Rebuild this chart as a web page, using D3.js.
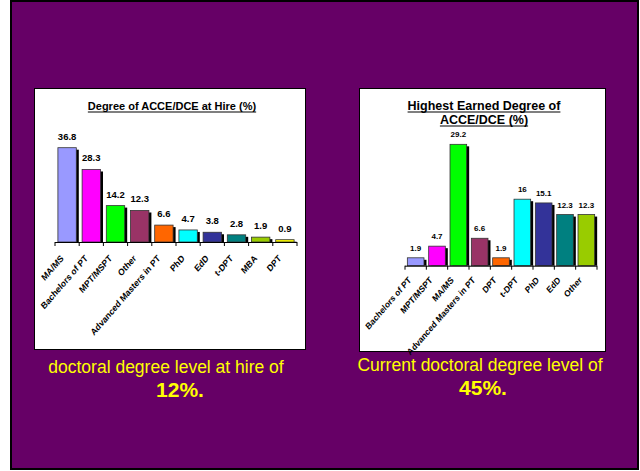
<!DOCTYPE html>
<html>
<head>
<meta charset="utf-8">
<script src="https://cdn.jsdelivr.net/npm/d3@7/dist/d3.min.js"></script>
<style>
  html, body { margin: 0; padding: 0; background: #ffffff; }
  svg { display: block; }
  text { font-family: "Liberation Sans", Arial, sans-serif; }
</style>
</head>
<body>
<svg id="slide" width="640" height="471"></svg>
<script>
// Degree held at hire (%)
const hireCategories = ["MA/MS", "Bachelors of PT", "MPT/MSPT", "Other", "Advanced Masters in PT",
                        "PhD", "EdD", "t-DPT", "MBA", "DPT"];
const hireValues = [36.8, 28.3, 14.2, 12.3, 6.6, 4.7, 3.8, 2.8, 1.9, 0.9];

// Highest degree currently held (%)
const currentCategories = ["Bachelors of PT", "MPT/MSPT", "MA/MS", "Advanced Masters in PT", "DPT",
                           "t-DPT", "PhD", "EdD", "Other"];
const currentValues = [1.9, 4.7, 29.2, 6.6, 1.9, 16, 15.1, 12.3, 12.3];

// Bar fills, in category order
const hireColors = ["#9999ff", "#ff00ff", "#00ff00", "#993366", "#ff6600",
                    "#00ffff", "#333399", "#008080", "#99cc00", "#ffff00"];
const currentColors = ["#9999ff", "#ff00ff", "#00ff00", "#993366", "#ff6600",
                       "#00ffff", "#333399", "#008080", "#99cc00"];

const svg = d3.select("#slide");

// Slide background
svg.append("rect")
  .attr("x", 11).attr("y", 1).attr("width", 627).attr("height", 468)
  .attr("fill", "#660066").attr("stroke", "#000").attr("stroke-width", 2);

function drawChart(opts) {
  const g = svg.append("g");
  // white panel
  g.append("rect")
    .attr("x", opts.box[0] + 0.5).attr("y", opts.box[1] + 0.5)
    .attr("width", opts.box[2] - opts.box[0]).attr("height", opts.box[3] - opts.box[1])
    .attr("fill", "#fff").attr("stroke", "#000").attr("stroke-width", 1);

  // title, underlined
  opts.title.forEach((line, i) => {
    const t = g.append("text")
      .attr("x", opts.titleX).attr("y", opts.titleY + i * opts.titleLead)
      .attr("text-anchor", "middle")
      .attr("font-weight", "bold")
      .attr("font-size", opts.titleSize)
      .attr("fill", "#000")
      .text(line);
    const w = t.node().getComputedTextLength();
    g.append("line")
      .attr("x1", opts.titleX - w / 2).attr("x2", opts.titleX + w / 2)
      .attr("y1", opts.titleY + i * opts.titleLead + 2)
      .attr("y2", opts.titleY + i * opts.titleLead + 2)
      .attr("stroke", "#000").attr("stroke-width", 1.2);
  });

  const x = d3.scaleBand()
    .domain(opts.categories)
    .range([opts.x0, opts.x1])
    .paddingInner(opts.padInner)
    .paddingOuter(opts.padInner / 2);
  const y = d3.scaleLinear().domain(opts.yDomain).range([opts.baseY, opts.topY]);

  const data = opts.categories.map((c, i) => ({ c, v: opts.values[i], col: opts.colors[i] }));

  // drop shadows
  g.selectAll("rect.shadow").data(data).enter().append("rect")
    .attr("class", "shadow")
    .attr("x", d => x(d.c) + 2.5)
    .attr("y", d => y(d.v) + 2)
    .attr("width", x.bandwidth())
    .attr("height", d => Math.max(0, y(0) - y(d.v) - 2))
    .attr("fill", "#000");

  // bars
  g.selectAll("rect.bar").data(data).enter().append("rect")
    .attr("class", "bar")
    .attr("x", d => x(d.c))
    .attr("y", d => y(d.v))
    .attr("width", x.bandwidth())
    .attr("height", d => y(0) - y(d.v))
    .attr("fill", d => d.col)
    .attr("stroke", "#333").attr("stroke-width", 0.8);

  // value labels
  g.selectAll("text.val").data(data).enter().append("text")
    .attr("class", "val")
    .attr("x", d => x(d.c) + x.bandwidth() / 2)
    .attr("y", d => y(d.v) - opts.labelGap)
    .attr("text-anchor", "middle")
    .attr("font-weight", "bold")
    .attr("font-size", opts.valSize)
    .attr("fill", "#000")
    .text(d => d.v);

  // category axis with ticks at band boundaries
  const bounds = d3.range(opts.categories.length + 1);
  const bx = d3.scaleLinear().domain([0, opts.categories.length]).range([opts.x0, opts.x1]);
  g.append("line")
    .attr("x1", opts.x0).attr("x2", opts.x1)
    .attr("y1", y(0) + 0.5).attr("y2", y(0) + 0.5)
    .attr("stroke", "#000").attr("stroke-width", 1);
  g.selectAll("line.tick").data(bounds).enter().append("line")
    .attr("class", "tick")
    .attr("x1", d => bx(d)).attr("x2", d => bx(d))
    .attr("y1", y(0)).attr("y2", y(0) + 4)
    .attr("stroke", "#000").attr("stroke-width", 1);

  // rotated category labels (slightly stretched vertically)
  g.selectAll("text.cat").data(data).enter().append("text")
    .attr("class", "cat")
    .attr("transform", d => `translate(${x(d.c) + x.bandwidth() / 2 + opts.catDx},${y(0) + opts.catDy}) scale(1,1.15) rotate(-45)`)
    .attr("text-anchor", "end")
    .attr("font-weight", "bold")
    .attr("font-size", opts.catSize)
    .attr("fill", "#000")
    .text(d => d.c);
}

drawChart({
  box: [34, 88, 305, 349],
  title: ["Degree of ACCE/DCE at Hire (%)"],
  titleX: 172, titleY: 110, titleLead: 0, titleSize: 11,
  categories: hireCategories, values: hireValues, colors: hireColors,
  x0: 55, x1: 297, padInner: 0.24,
  yDomain: [0, 40], baseY: 242, topY: 139.5,
  labelGap: 8, valSize: 9.5, catSize: 8.2, catDx: -3, catDy: 17
});

drawChart({
  box: [359, 88, 605, 351],
  title: ["Highest Earned Degree of", "ACCE/DCE  (%)"],
  titleX: 484, titleY: 110, titleLead: 14, titleSize: 12.5,
  categories: currentCategories, values: currentValues, colors: currentColors,
  x0: 405, x1: 597, padInner: 0.22,
  yDomain: [0, 30], baseY: 265.7, topY: 141,
  labelGap: 7, valSize: 8, catSize: 8, catDx: -4, catDy: 15
});

// captions
const captions = [
  { text: "doctoral degree level at hire of", x: 166, y: 373, size: 17.5, bold: false },
  { text: "12%.", x: 180, y: 397, size: 21, bold: true },
  { text: "Current doctoral degree level of", x: 480, y: 371, size: 17.5, bold: false },
  { text: "45%.", x: 483, y: 395, size: 21, bold: true }
];
svg.selectAll("text.caption").data(captions).enter().append("text")
  .attr("class", "caption")
  .attr("x", d => d.x).attr("y", d => d.y)
  .attr("text-anchor", "middle")
  .attr("font-size", d => d.size)
  .attr("font-weight", d => d.bold ? "bold" : "normal")
  .attr("fill", "#ffff00")
  .text(d => d.text);
</script>
</body>
</html>
